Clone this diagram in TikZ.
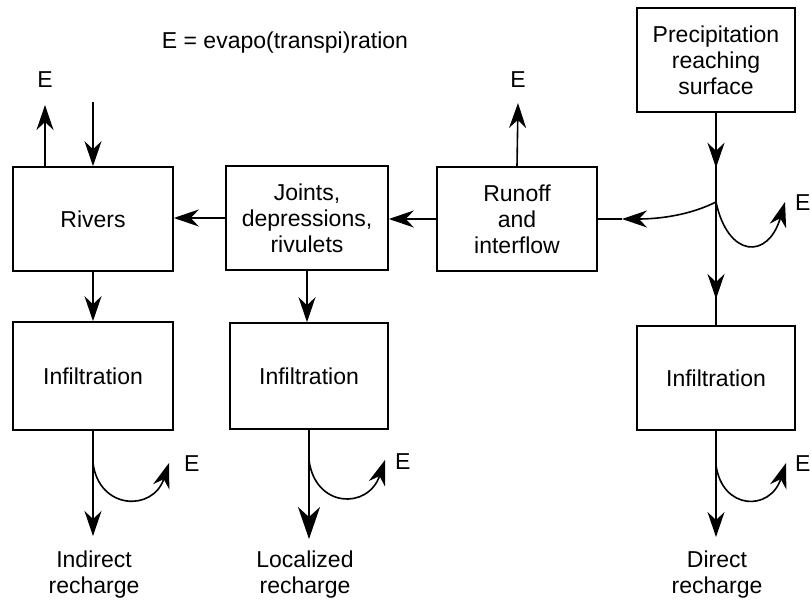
\documentclass[tikz,border=0pt]{standalone}
\usepackage{fontspec}
\setmainfont{Liberation Sans}
\usetikzlibrary{positioning, arrows.meta, decorations.markings}

\begin{document}
\begin{tikzpicture}[
    x=1pt, y=-1pt,
    font=\fontsize{23}{26}\selectfont,
    >={Stealth[length=25pt, width=17pt, inset=8pt]},
    box/.style={rectangle, draw, line width=1.6pt, align=center, inner sep=0pt},
    arrow/.style={->, line width=1.6pt},
    bigarrow/.style={-{Stealth[length=32pt, width=22pt, inset=10pt]}, line width=1.9pt},
    midarrow/.style={line width=1.6pt, postaction={decorate},
        decoration={markings, mark=at position #1 with {\arrow{>}}}},
    lbl/.style={align=center},
    evap/.style={anchor=west, inner sep=0pt}
]
\useasboundingbox (0,0) rectangle (811,601);

% Boxes
\node (legend) at (285,43) {E = evapo(transpi)ration};
\node[box, minimum width=160pt, minimum height=104pt] (rivers) at (93,219) {Rivers};
\node[box, minimum width=162pt, minimum height=104pt] (joints) at (307,218) {Joints,\\depressions,\\rivulets};
\node[box, minimum width=160pt, minimum height=104pt] (runoff) at (517,219) {Runoff\\and\\interflow};
\node[box, minimum width=158pt, minimum height=104pt] (precip) at (716,60) {Precipitation\\reaching\\surface};
\node[box, minimum width=160pt, minimum height=108pt] (infA) at (93,376) {Infiltration};
\node[box, minimum width=158pt, minimum height=106pt] (infB) at (309,376) {Infiltration};
\node[box, minimum width=158pt, minimum height=104pt] (infC) at (716,378) {Infiltration};

% Recharge labels
\node[lbl] (indirect) at (94,575) {Indirect\\recharge};
\node[lbl] (localized) at (305,575) {Localized\\recharge};
\node[lbl] (direct) at (717,575) {Direct\\recharge};

% E labels
\node (eRiv) at (45,80) {E};
\node (eRun) at (518,80) {E};
\node[evap] (eTop) at (795,203) {E};
\node[evap] (eA) at (184,464) {E};
\node[evap] (eB) at (395,462) {E};
\node[evap] (eC) at (795,464) {E};

% Free ends
\coordinate (split) at (716,202);
\coordinate (turn) at (622,219);
\coordinate (tipTop) at (785,202);
\coordinate (rivIn) at (93,102);
\coordinate (rivE) at (45,105);
\coordinate (runE) at (518,103);
\coordinate (forkA) at (93,463);
\coordinate (tipA) at (169,463);
\coordinate (endA) at (93,536);
\coordinate (forkB) at (309,460);
\coordinate (tipB) at (385,460);
\coordinate (endB) at (309,539);
\coordinate (forkC) at (716,465);
\coordinate (tipC) at (786,463);
\coordinate (endC) at (716,537);

% Main flow
\draw[midarrow=55pt] (precip.south) -- (split);
\draw[midarrow=97pt] (split) -- (infC.north);
\draw[arrow] (split) .. controls (690,215) and (660,219) .. (turn);
\draw[line width=1.6pt] (turn) -- (runoff.east);
\draw[arrow] (split) .. controls (728,258) and (768,260) .. (tipTop);
\draw[arrow] (runoff.west) -- (runoff.west -| joints.east);
\draw[arrow] (joints.west) -- (joints.west -| rivers.east);
\draw[arrow] (rivIn) -- (rivers.north);
\draw[arrow] (rivers.north -| rivE) -- (rivE);
\draw[arrow] (runoff.north) -- (runE);
\draw[arrow] (rivers.south) -- (infA.north);
\draw[arrow] (joints.south) -- (joints.south |- infB.north);

% Below infiltration
\draw[arrow] (infA.south) -- (endA);
\draw[arrow] (forkA) .. controls (99,510) and (153,512) .. (tipA);
\draw[bigarrow] (infB.south) -- (endB);
\draw[arrow] (forkB) .. controls (315,508) and (368,510) .. (tipB);
\draw[arrow] (infC.south) -- (endC);
\draw[arrow] (forkC) .. controls (722,510) and (770,512) .. (tipC);

\end{tikzpicture}
\end{document}
